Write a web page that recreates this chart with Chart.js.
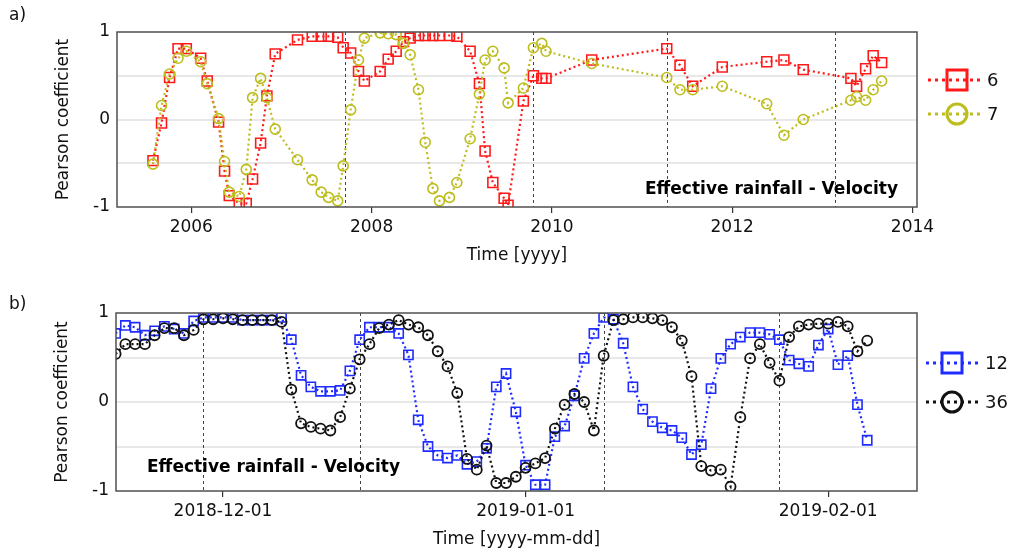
<!DOCTYPE html>
<html>
<head>
<meta charset="utf-8">
<script src="https://cdn.jsdelivr.net/npm/chart.js@4.4.0/dist/chart.umd.min.js"></script>
<style>
    body { margin: 0; background: #fff; width: 1012px; height: 554px; overflow: hidden; font-family: 'DejaVu Sans', sans-serif; }
    .panel { position: absolute; left: 0; width: 1012px; height: 277px; }
    .tag { position: absolute; left: 9px; font-size: 17px; color: #111; }
</style>
</head>
<body>
<div class="panel" style="top:0"><canvas id="chartA" width="1012" height="277"></canvas></div>
<div class="panel" style="top:277px"><canvas id="chartB" width="1012" height="277"></canvas></div>
<div class="tag" style="top:4px">a)</div>
<div class="tag" style="top:293px">b)</div>
<script>
// ---- panel a: decimal years
const yearsA = [2005.575, 2005.67, 2005.759, 2005.853, 2005.945, 2006.104, 2006.177, 2006.303, 2006.369, 2006.421,
    2006.532, 2006.61, 2006.68, 2006.769, 2006.839, 2006.931, 2007.178, 2007.341, 2007.441, 2007.522,
    2007.624, 2007.685, 2007.768, 2007.855, 2007.92, 2008.095, 2008.184, 2008.273, 2008.354, 2008.428,
    2008.52, 2008.595, 2008.68, 2008.753, 2008.864, 2008.946, 2009.093, 2009.196, 2009.259, 2009.345,
    2009.47, 2009.514, 2009.684, 2009.795, 2009.888, 2009.935, 2010.442, 2011.274, 2011.421, 2011.562,
    2011.89, 2012.383, 2012.574, 2012.788, 2013.317, 2013.38, 2013.48, 2013.564, 2013.658];
const corr6 = [-0.47, -0.04, 0.48, 0.81, 0.81, 0.70, 0.44, -0.03, -0.59, -0.87,
    -0.96, -0.96, -0.68, -0.27, 0.27, 0.75, 0.91, 0.95, 0.95, 0.95,
    0.94, 0.82, 0.76, 0.55, 0.44, 0.55, 0.69, 0.78, 0.89, 0.93,
    0.96, 0.96, 0.96, 0.96, 0.96, 0.95, 0.78, 0.41, -0.36, -0.72,
    -0.90, -0.98, 0.21, 0.50, 0.47, 0.47, 0.68, 0.81, 0.62, 0.38,
    0.60, 0.66, 0.68, 0.57, 0.47, 0.38, 0.58, 0.73, 0.65];
const corr7 = [-0.51, 0.16, 0.52, 0.70, 0.78, 0.66, 0.41, 0.01, -0.48, -0.83,
    -0.88, -0.57, 0.25, 0.47, 0.25, -0.11, -0.46, -0.69, -0.83, -0.89,
    -0.93, -0.53, 0.11, 0.68, 0.93, 0.99, 0.98, 0.97, 0.87, 0.74,
    0.34, -0.26, -0.79, -0.93, -0.89, -0.72, -0.22, 0.29, 0.68, 0.78,
    0.59, 0.19, 0.36, 0.82, 0.87, 0.78, 0.64, 0.48, 0.34, 0.34,
    0.38, 0.18, -0.18, 0.00, 0.22, 0.26, 0.22, 0.34, 0.44];
const yearTicks = [2006, 2008, 2010, 2012, 2014];
const eventsA = [2007.707, 2009.795, 2011.274, 2013.139];

// ---- panel b: days after 2018-12-01
const daysB = [-11, -10, -9, -8, -7, -6, -5, -4, -3, -2,
    -1, 0, 1, 2, 3, 4, 5, 6, 7, 8,
    9, 10, 11, 12, 13, 14, 15, 16, 17, 18,
    19, 20, 21, 22, 23, 24, 25, 26, 27, 28,
    29, 30, 31, 32, 33, 34, 35, 36, 37, 38,
    39, 40, 41, 42, 43, 44, 45, 46, 47, 48,
    49, 50, 51, 52, 53, 54, 55, 56, 57, 58,
    59, 60, 61, 62, 63, 64, 65, 66];
const corr12 = [0.77, 0.86, 0.84, 0.75, 0.80, 0.85, 0.82, 0.77, 0.91, 0.95,
    0.95, 0.95, 0.95, 0.92, 0.92, 0.92, 0.92, 0.95, 0.70, 0.30,
    0.17, 0.12, 0.12, 0.13, 0.35, 0.70, 0.84, 0.84, 0.84, 0.77,
    0.53, -0.20, -0.50, -0.60, -0.63, -0.60, -0.70, -0.67, -0.52, 0.17,
    0.32, -0.11, -0.71, -0.93, -0.93, -0.39, -0.27, 0.07, 0.49, 0.77,
    0.95, 0.93, 0.66, 0.17, -0.08, -0.22, -0.29, -0.32, -0.40, -0.59,
    -0.48, 0.15, 0.49, 0.65, 0.73, 0.78, 0.78, 0.76, 0.70, 0.47,
    0.43, 0.40, 0.64, 0.82, 0.42, 0.52, -0.03, -0.43];
const corr36 = [0.54, 0.65, 0.65, 0.65, 0.75, 0.83, 0.83, 0.75, 0.81, 0.93,
    0.93, 0.94, 0.93, 0.92, 0.92, 0.92, 0.92, 0.90, 0.14, -0.24,
    -0.28, -0.30, -0.32, -0.17, 0.15, 0.48, 0.65, 0.83, 0.87, 0.92,
    0.87, 0.84, 0.75, 0.57, 0.40, 0.10, -0.64, -0.76, -0.49, -0.91,
    -0.91, -0.84, -0.74, -0.69, -0.63, -0.30, -0.03, 0.09, 0.00, -0.32,
    0.52, 0.92, 0.93, 0.95, 0.95, 0.94, 0.92, 0.84, 0.69, 0.29,
    -0.72, -0.77, -0.76, -0.95, -0.17, 0.49, 0.65, 0.44, 0.24, 0.73,
    0.85, 0.87, 0.88, 0.88, 0.90, 0.85, 0.57, 0.69];
const dayTicks = [0, 31, 62];
const dayTickLabels = ['2018-12-01', '2019-01-01', '2019-02-01'];
const eventsB = [-2, 14, 39, 57];

const yTicks = [-1, -0.5, 0, 0.5, 1];
const FONT = "'DejaVu Sans', sans-serif";

function series(label, xs, ys, color, style, radius, width, order) {
    return {
        label: label,
        order: order,
        data: xs.map((x, i) => ({ x: x, y: ys[i] })),
        borderColor: color,
        borderWidth: 2.2,
        borderDash: [2, 3],
        borderCapStyle: 'butt',
        pointStyle: style,
        pointRadius: radius,
        pointHoverRadius: radius,
        pointBorderWidth: width,
        pointBorderColor: color,
        pointBackgroundColor: 'rgba(0,0,0,0)',
        fill: false,
        tension: 0
    };
}

// frame, event lines, note and side legend
function decorPlugin(events, note, legendPos) {
    return {
        id: 'decor',
        beforeDatasetsDraw(chart) {
            const { ctx, chartArea: a, scales: { x } } = chart;
            ctx.save();
            ctx.strokeStyle = '#444';
            ctx.lineWidth = 1;
            ctx.setLineDash([3, 3]);
            events.forEach(v => {
                const px = Math.round(x.getPixelForValue(v)) + 0.5;
                ctx.beginPath();
                ctx.moveTo(px, a.top);
                ctx.lineTo(px, a.bottom);
                ctx.stroke();
            });
            ctx.restore();
        },
        afterDraw(chart) {
            const { ctx, chartArea: a } = chart;
            ctx.save();
            ctx.strokeStyle = '#505050';
            ctx.lineWidth = 1.5;
            ctx.strokeRect(a.left, a.top, a.right - a.left, a.bottom - a.top);

            ctx.fillStyle = '#000';
            ctx.font = 'bold 17px ' + FONT;
            ctx.textBaseline = 'middle';
            ctx.textAlign = note.align;
            ctx.fillText(note.text, note.x, note.y);

            chart.data.datasets.forEach((ds, i) => {
                const y = legendPos.y[i];
                ctx.strokeStyle = ds.borderColor;
                ctx.lineWidth = 3;
                ctx.setLineDash([3, 4]);
                ctx.beginPath();
                ctx.moveTo(legendPos.x0, y);
                ctx.lineTo(legendPos.x1, y);
                ctx.stroke();
                ctx.setLineDash([]);
                ctx.beginPath();
                if (ds.pointStyle === 'rect') {
                    ctx.rect(legendPos.mx - 10, y - 10, 20, 20);
                } else {
                    ctx.arc(legendPos.mx, y, 10, 0, Math.PI * 2);
                }
                ctx.stroke();
                ctx.fillStyle = '#111';
                ctx.font = '18px ' + FONT;
                ctx.textAlign = 'left';
                ctx.fillText(ds.label, legendPos.tx, y + 1);
            });
            ctx.restore();
        }
    };
}

function makeOptions(xMin, xMax, tickValues, tickLabel, title, pad) {
    return {
        responsive: false,
        animation: false,
        layout: { padding: pad },
        plugins: { legend: { display: false }, tooltip: { enabled: false } },
        scales: {
            x: {
                type: 'linear',
                min: xMin,
                max: xMax,
                afterBuildTicks: s => { s.ticks = tickValues.map(v => ({ value: v })); },
                afterFit: s => { s.height = 59; },
                border: { display: false },
                grid: { drawOnChartArea: false, drawTicks: true, tickLength: 6, color: '#333', lineWidth: 1.2 },
                ticks: { autoSkip: false, maxRotation: 0, padding: 4, color: '#111', font: { family: FONT, size: 17 }, callback: tickLabel },
                title: { display: true, text: title, color: '#111', padding: 0, font: { family: FONT, size: 17 } }
            },
            y: {
                min: -1,
                max: 1,
                afterBuildTicks: s => { s.ticks = yTicks.map(v => ({ value: v })); },
                afterFit: s => { s.width = 64; },
                border: { display: false },
                grid: {
                    drawTicks: false,
                    lineWidth: 2,
                    color: c => (Math.abs(c.tick.value) === 1 ? 'rgba(0,0,0,0)' : '#e8e8e8')
                },
                ticks: {
                    padding: 7,
                    color: '#111',
                    font: { family: FONT, size: 17 },
                    callback: v => (Number.isInteger(v) ? String(v) : '')
                },
                title: { display: true, text: 'Pearson coefficient', color: '#111', padding: 0, font: { family: FONT, size: 17 } }
            }
        }
    };
}

new Chart(document.getElementById('chartA'), {
    type: 'line',
    data: {
        datasets: [
            series('6', yearsA, corr6, '#ff1a1a', 'rect', 7, 1.6, 2),
            series('7', yearsA, corr7, '#bdbd1e', 'circle', 5, 1.6, 1)
        ]
    },
    options: makeOptions(2005.176, 2014.05, yearTicks, v => String(v), 'Time [yyyy]',
        { left: 53, right: 95, top: 32, bottom: 11 }),
    plugins: [decorPlugin(eventsA,
        { text: 'Effective rainfall - Velocity', x: 898, y: 190, align: 'right' },
        { y: [80, 114], x0: 928, x1: 983, mx: 957, tx: 987 })]
});

new Chart(document.getElementById('chartB'), {
    type: 'line',
    data: {
        datasets: [
            series('12', daysB, corr12, '#1f2cff', 'rect', 6.5, 1.6, 2),
            series('36', daysB, corr36, '#111111', 'circle', 5, 1.8, 1)
        ]
    },
    options: makeOptions(-10.96, 71.1, dayTicks, v => dayTickLabels[dayTicks.indexOf(v)], 'Time [yyyy-mm-dd]',
        { left: 52, right: 95, top: 36, bottom: 4 }),
    plugins: [decorPlugin(eventsB,
        { text: 'Effective rainfall - Velocity', x: 147, y: 191, align: 'left' },
        { y: [86, 125], x0: 926, x1: 980, mx: 952, tx: 985 })]
});
</script>
</body>
</html>
